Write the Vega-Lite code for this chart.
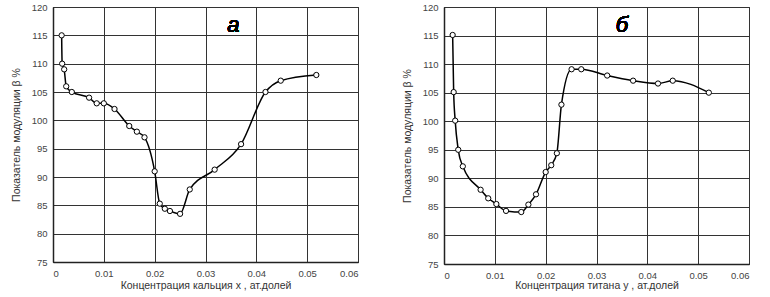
{
  "$schema": "https://vega.github.io/schema/vega-lite/v6.json",
  "padding": {"left": 10, "top": 1, "right": 5, "bottom": 2},
  "background": "white",
  "config": {
    "font": "Liberation Sans",
    "view": {"stroke": "#222", "strokeWidth": 1},
    "concat": {"spacing": 42},
    "axis": {
      "domainColor": "#222", "domainWidth": 1.5,
      "tickSize": 0, "labelFontSize": 9.5, "labelColor": "#444",
      "titleFontSize": 10.5, "titleFontWeight": "normal", "titleColor": "#333",
      "labelPadding": 6
    }
  },
  "datasets": {
    "a": [
      {"x": 0.0017, "y": 115}, {"x": 0.0018, "y": 110}, {"x": 0.0022, "y": 109},
      {"x": 0.0026, "y": 106}, {"x": 0.0037, "y": 105}, {"x": 0.0071, "y": 104},
      {"x": 0.0086, "y": 103}, {"x": 0.0100, "y": 103}, {"x": 0.0121, "y": 102},
      {"x": 0.0150, "y": 99}, {"x": 0.0165, "y": 98}, {"x": 0.0180, "y": 97},
      {"x": 0.0200, "y": 91}, {"x": 0.0210, "y": 85.3}, {"x": 0.0220, "y": 84.4},
      {"x": 0.0230, "y": 84}, {"x": 0.0250, "y": 83.5}, {"x": 0.0269, "y": 87.8},
      {"x": 0.0318, "y": 91.3}, {"x": 0.0370, "y": 95.8}, {"x": 0.0418, "y": 105},
      {"x": 0.0448, "y": 107}, {"x": 0.0518, "y": 108}
    ],
    "b": [
      {"x": 0.0017, "y": 115.1}, {"x": 0.0019, "y": 105.1}, {"x": 0.0022, "y": 100.1},
      {"x": 0.0028, "y": 95}, {"x": 0.0037, "y": 92.1}, {"x": 0.0072, "y": 88},
      {"x": 0.0087, "y": 86.5}, {"x": 0.0103, "y": 85.5}, {"x": 0.0122, "y": 84.3},
      {"x": 0.0152, "y": 84.1}, {"x": 0.0166, "y": 85.4}, {"x": 0.0181, "y": 87.2},
      {"x": 0.0200, "y": 91.1}, {"x": 0.0211, "y": 92.3}, {"x": 0.0222, "y": 94.4},
      {"x": 0.0231, "y": 102.9}, {"x": 0.0251, "y": 109.1}, {"x": 0.0270, "y": 109.1},
      {"x": 0.0321, "y": 108}, {"x": 0.0372, "y": 107.1}, {"x": 0.0421, "y": 106.6},
      {"x": 0.0450, "y": 107.1}, {"x": 0.0521, "y": 105}
    ]
  },
  "hconcat": [
    {
      "width": 305, "height": 255,
      "data": {"name": "a"},
      "encoding": {
        "x": {"field": "x", "type": "quantitative", "scale": {"domain": [0, 0.06], "nice": false},
              "axis": {"grid": true, "gridColor": "#333", "gridWidth": 1, "gridOpacity": 1, "values": [0, 0.01, 0.02, 0.03, 0.04, 0.05, 0.06], "format": "~g", "title": "Концентрация кальция x , ат.долей", "titlePadding": 3}},
        "y": {"field": "y", "type": "quantitative", "scale": {"domain": [75, 120], "nice": false, "zero": false},
              "axis": {"grid": true, "gridColor": "#333", "gridWidth": 1, "gridOpacity": 1, "values": [75, 80, 85, 90, 95, 100, 105, 110, 115, 120], "title": "Показатель модуляции β  %", "titlePadding": 10}}
      },
      "layer": [
        {"mark": {"type": "line", "interpolate": "monotone", "color": "black", "strokeWidth": 1.5}},
        {"mark": {"type": "point", "shape": "circle", "filled": true, "fill": "white", "stroke": "black", "strokeWidth": 1, "size": 28, "opacity": 1}},
        {"mark": {"type": "text", "text": "а", "fontSize": 22, "fontStyle": "italic", "fontWeight": "normal", "font": "Liberation Sans", "color": "black"},
         "encoding": {"x": {"datum": 0.0355}, "y": {"datum": 116.8}}}
      ]
    },
    {
      "width": 305, "height": 257,
      "data": {"name": "b"},
      "encoding": {
        "x": {"field": "x", "type": "quantitative", "scale": {"domain": [0, 0.06], "nice": false},
              "axis": {"grid": true, "gridColor": "#333", "gridWidth": 1, "gridOpacity": 1, "values": [0, 0.01, 0.02, 0.03, 0.04, 0.05, 0.06], "format": "~g", "title": "Концентрация титана y , ат.долей", "titlePadding": 1}},
        "y": {"field": "y", "type": "quantitative", "scale": {"domain": [75, 120], "nice": false, "zero": false},
              "axis": {"grid": true, "gridColor": "#333", "gridWidth": 1, "gridOpacity": 1, "values": [75, 80, 85, 90, 95, 100, 105, 110, 115, 120], "title": "Показатель модуляции β  %", "titlePadding": 10}}
      },
      "layer": [
        {"mark": {"type": "line", "interpolate": "monotone", "color": "black", "strokeWidth": 1.5}},
        {"mark": {"type": "point", "shape": "circle", "filled": true, "fill": "white", "stroke": "black", "strokeWidth": 1, "size": 28, "opacity": 1}},
        {"mark": {"type": "text", "text": "б", "fontSize": 22, "fontStyle": "italic", "fontWeight": "normal", "font": "Liberation Sans", "color": "black"},
         "encoding": {"x": {"datum": 0.035}, "y": {"datum": 116.8}}}
      ]
    }
  ]
}
